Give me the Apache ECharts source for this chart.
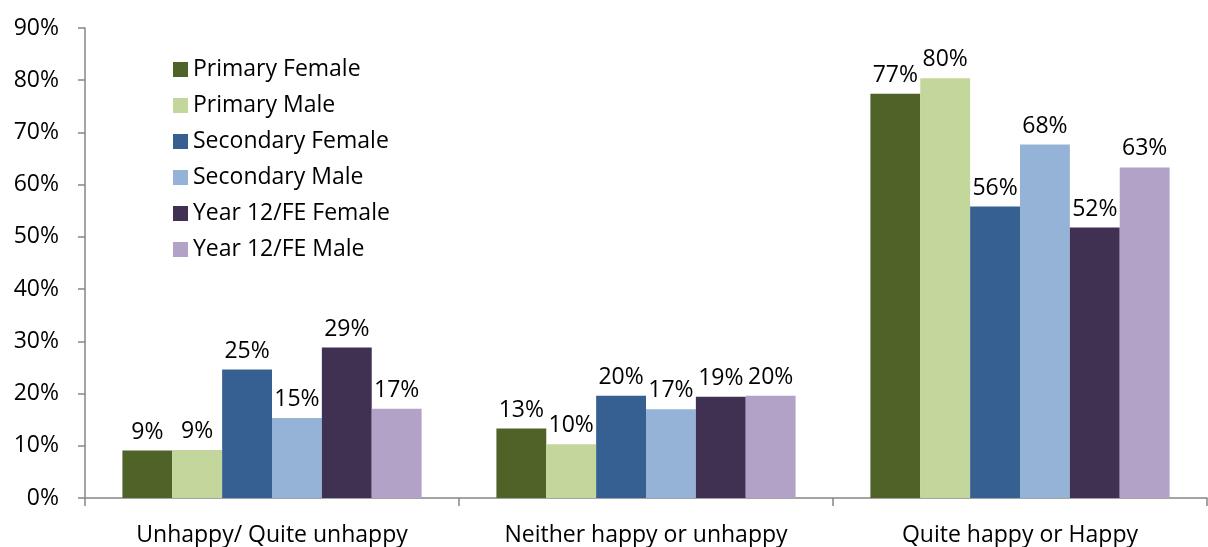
<!DOCTYPE html>
<html>
<head>
<meta charset="utf-8">
<script src="https://cdn.jsdelivr.net/npm/echarts@6/dist/echarts.min.js"></script>
<style>
  html, body { margin: 0; padding: 0; background: #fff; }
  #chart { width: 1208px; height: 547px; }
</style>
</head>
<body>
<div id="chart"></div>
<script>
var categories = ['Unhappy/ Quite unhappy', 'Neither happy or unhappy', 'Quite happy or Happy'];
var seriesNames = ['Primary Female', 'Primary Male', 'Secondary Female', 'Secondary Male', 'Year 12/FE Female', 'Year 12/FE Male'];
var primaryFemale = [9.1, 13.3, 77.4];
var primaryMale = [9.2, 10.3, 80.4];
var secondaryFemale = [24.6, 19.6, 55.8];
var secondaryMale = [15.3, 17.0, 67.7];
var year12Female = [28.8, 19.4, 51.8];
var year12Male = [17.1, 19.6, 63.3];
var colors = ['#4F6228', '#C3D69B', '#376092', '#95B3D7', '#403152', '#B3A2C7'];

var fontFamily = '"Open Sans", sans-serif';
var allValues = [primaryFemale, primaryMale, secondaryFemale, secondaryMale, year12Female, year12Male];

var chart = echarts.init(document.getElementById('chart'));

var series = [];
for (var i = 0; i < seriesNames.length; i++) {
	series.push({
		name: seriesNames[i],
		type: 'bar',
		data: allValues[i],
		barGap: '0%',
		barCategoryGap: '20%',
		itemStyle: { color: colors[i] },
		label: {
			show: true,
			position: 'top',
			distance: 7,
			color: '#000',
			fontSize: 23,
			fontFamily: fontFamily,
			formatter: function(p) { return Math.round(p.value) + '%'; }
		}
	});
}

var option = {
	animation: false,
	grid: { left: 85, right: 1, top: 28, bottom: 48 },
	legend: {
		orient: 'vertical',
		left: 168,
		top: 53,
		itemWidth: 15,
		itemHeight: 15,
		itemGap: 13,
		icon: 'rect',
		textStyle: { fontSize: 23, color: '#000', fontFamily: fontFamily },
		data: seriesNames
	},
	xAxis: {
		type: 'category',
		data: categories,
		axisLine: { lineStyle: { color: '#868686', width: 1.5 } },
		axisTick: { show: true, length: 8, lineStyle: { color: '#868686', width: 1.5 } },
		axisLabel: { margin: 26, fontSize: 23, color: '#000', fontFamily: fontFamily }
	},
	yAxis: {
		type: 'value',
		min: 0,
		max: 90,
		interval: 10,
		splitLine: { show: false },
		axisLine: { show: true, lineStyle: { color: '#868686', width: 1.5 } },
		axisTick: { show: true, length: 7, lineStyle: { color: '#868686', width: 1.5 } },
		axisLabel: { margin: 26, fontSize: 23, color: '#000', fontFamily: fontFamily, formatter: '{value}%' }
	},
	series: series
};
chart.setOption(option);
</script>
</body>
</html>
